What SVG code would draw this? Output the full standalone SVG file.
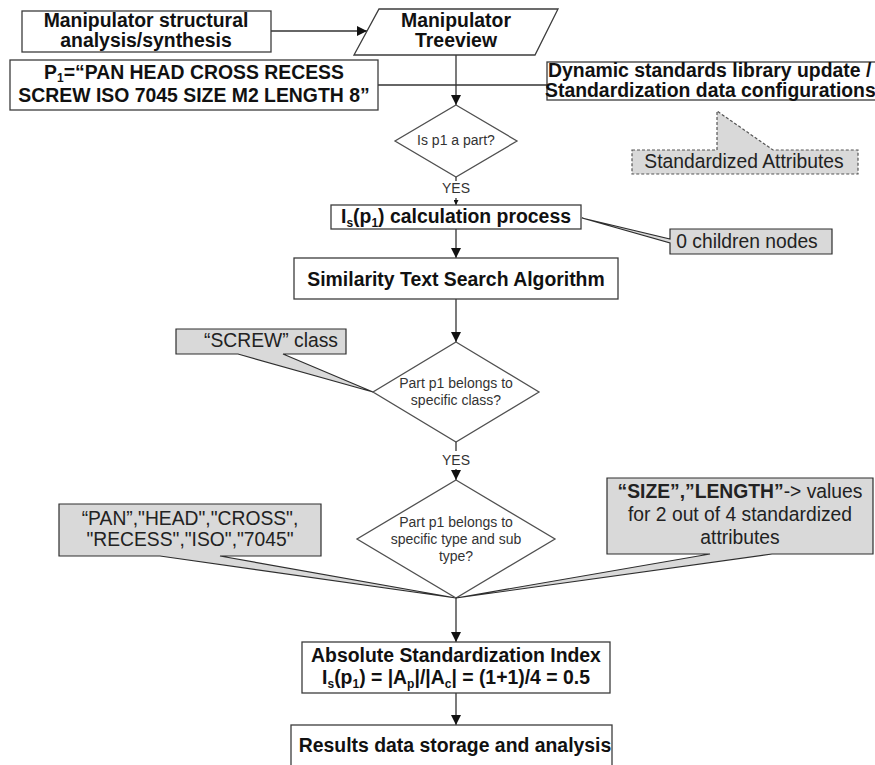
<svg xmlns="http://www.w3.org/2000/svg" width="875" height="765" viewBox="0 0 875 765">
  <defs>
    <style>
      .box { fill: #ffffff; stroke: #3c3c3c; stroke-width: 1.3; }
      .dia { fill: #ffffff; stroke: #505050; stroke-width: 1.3; }
      .call { fill: #d9d9d9; stroke: #2e2e2e; stroke-width: 1.2; stroke-linejoin: miter; }
      .callDash { fill: #d9d9d9; stroke: #555555; stroke-width: 1.2; stroke-dasharray: 3 2; }
      .b { font-family: "Liberation Sans", Arial, sans-serif; font-weight: bold; font-size: 19.4px; fill: #111111; text-anchor: middle; }
      .r { font-family: "Liberation Sans", Arial, sans-serif; font-size: 19.3px; fill: #222222; text-anchor: middle; }
      .s { font-family: "Liberation Sans", Arial, sans-serif; font-size: 14px; fill: #333333; text-anchor: middle; }
      .st { text-anchor: start; }
      .ln { fill: none; stroke: #333333; stroke-width: 1.3; }
    </style>
    <marker id="arrow" viewBox="0 0 10 10" refX="10" refY="5" markerWidth="10" markerHeight="10" markerUnits="userSpaceOnUse" orient="auto">
      <path d="M0,0 L10,5 L0,10 Z" fill="#111111"/>
    </marker>
    <marker id="arrowSmall" viewBox="0 0 10 10" refX="10" refY="5" markerWidth="5" markerHeight="5" markerUnits="userSpaceOnUse" orient="auto">
      <path d="M0,0 L10,5 L0,10 Z" fill="#111111"/>
    </marker>
  </defs>

  <rect width="875" height="765" fill="#ffffff"/>

  <!-- connectors -->
  <g id="connectors">
    <line class="ln" x1="271" y1="31" x2="367" y2="31" marker-end="url(#arrow)"/>
    <line class="ln" x1="378" y1="85" x2="547" y2="85"/>
    <line class="ln" x1="456" y1="55" x2="456" y2="105" marker-end="url(#arrow)"/>
    <line class="ln" x1="456" y1="177" x2="456" y2="181"/>
    <line class="ln" x1="456" y1="198" x2="456" y2="205" marker-end="url(#arrowSmall)"/>
    <line class="ln" x1="456" y1="229" x2="456" y2="258" marker-end="url(#arrow)"/>
    <line class="ln" x1="456" y1="299" x2="456" y2="342" marker-end="url(#arrow)"/>
    <line class="ln" x1="456" y1="442" x2="456" y2="451"/>
    <line class="ln" x1="456" y1="469" x2="456" y2="480" marker-end="url(#arrow)"/>
    <line class="ln" x1="456" y1="598" x2="456" y2="642" marker-end="url(#arrow)"/>
    <line class="ln" x1="456" y1="693" x2="456" y2="725" marker-end="url(#arrow)"/>
  </g>

  <!-- process boxes -->
  <g id="structural-analysis">
    <rect class="box" x="22" y="11" width="249" height="41"/>
    <text class="b" x="146" y="27">Manipulator structural</text>
    <text class="b" x="146" y="47">analysis/synthesis</text>
  </g>

  <g id="treeview">
    <path class="box" d="M379,9 H558 L535,55 H354 Z"/>
    <text class="b" x="456" y="27">Manipulator</text>
    <text class="b" x="456" y="47">Treeview</text>
  </g>

  <g id="part-name">
    <rect class="box" x="10" y="60" width="368" height="50"/>
    <text class="b" x="194" y="79">P<tspan font-size="12" dy="3">1</tspan><tspan dy="-3">=“PAN HEAD CROSS RECESS</tspan></text>
    <text class="b" x="194" y="102">SCREW ISO 7045 SIZE M2 LENGTH 8”</text>
  </g>

  <g id="library-update">
    <rect class="box" x="547" y="62" width="360" height="38"/>
    <text class="b st" x="548" y="77">Dynamic standards library update /</text>
    <text class="b st" x="545" y="97">Standardization data configurations</text>
  </g>

  <g id="standardized-attributes">
    <path class="callDash" d="M632,150 H717 V111 L773,150 H858 V174 H632 Z"/>
    <text class="r" x="744" y="168">Standardized Attributes</text>
  </g>

  <g id="is-part">
    <path class="dia" d="M456,105 L517,141 L456,177 L395,141 Z"/>
    <text class="s" x="456" y="145">Is p1 a part?</text>
    <text class="s" x="456" y="193">YES</text>
  </g>

  <g id="is-calculation">
    <rect class="box" x="331" y="205" width="250" height="24"/>
    <text class="b" x="456" y="223">I<tspan font-size="12" dy="4">s</tspan><tspan dy="-4">(p</tspan><tspan font-size="12" dy="4">1</tspan><tspan dy="-4">) calculation process</tspan></text>
  </g>

  <g id="children-nodes">
    <path class="call" d="M670,229 H832 V254 H670 V243 L582,218 L670,239 Z"/>
    <text class="r" x="747" y="248">0 children nodes</text>
  </g>

  <g id="similarity-search">
    <rect class="box" x="294" y="258" width="324" height="41"/>
    <text class="b" x="456" y="286">Similarity Text Search Algorithm</text>
  </g>

  <g id="screw-class">
    <path class="call" d="M176,329 H346 V354 H283 L373,392 L238,354 H176 Z"/>
    <text class="r" x="271" y="347">“SCREW” class</text>
  </g>

  <g id="class-check">
    <path class="dia" d="M456,342 L539,392 L456,442 L373,392 Z"/>
    <text class="s" x="456" y="388">Part p1 belongs to</text>
    <text class="s" x="456" y="405">specific class?</text>
    <text class="s" x="456" y="465">YES</text>
  </g>

  <g id="type-keywords">
    <path class="call" d="M59,504 H321 V556 H220 L456,598 L160,556 H59 Z"/>
    <text class="r" x="190" y="525">“PAN”,"HEAD","CROSS",</text>
    <text class="r" x="190" y="546">"RECESS","ISO","7045"</text>
  </g>

  <g id="type-check">
    <path class="dia" d="M456,480 L555,539 L456,598 L357,539 Z"/>
    <text class="s" x="456" y="527">Part p1 belongs to</text>
    <text class="s" x="456" y="544">specific type and sub</text>
    <text class="s" x="456" y="561">type?</text>
  </g>

  <g id="attribute-values">
    <path class="call" d="M607,478 H873 V554 H772 L456,598 L710,554 H607 Z"/>
    <text class="r" x="740" y="498"><tspan font-weight="bold">“SIZE”,”LENGTH”</tspan>-&gt; values</text>
    <text class="r" x="740" y="521">for 2 out of 4 standardized</text>
    <text class="r" x="740" y="544">attributes</text>
  </g>

  <g id="standardization-index">
    <rect class="box" x="302" y="642" width="308" height="51"/>
    <text class="b" x="456" y="662">Absolute Standardization Index</text>
    <text class="b" x="456" y="684">I<tspan font-size="12" dy="4">s</tspan><tspan dy="-4">(p</tspan><tspan font-size="12" dy="4">1</tspan><tspan dy="-4">) = |A</tspan><tspan font-size="12" dy="4">p</tspan><tspan dy="-4">|/|A</tspan><tspan font-size="12" dy="4">c</tspan><tspan dy="-4">| = (1+1)/4 = 0.5</tspan></text>
  </g>

  <g id="results-storage">
    <rect class="box" x="291" y="725" width="321" height="50"/>
    <text class="b" x="455" y="752">Results data storage and analysis</text>
  </g>
</svg>
